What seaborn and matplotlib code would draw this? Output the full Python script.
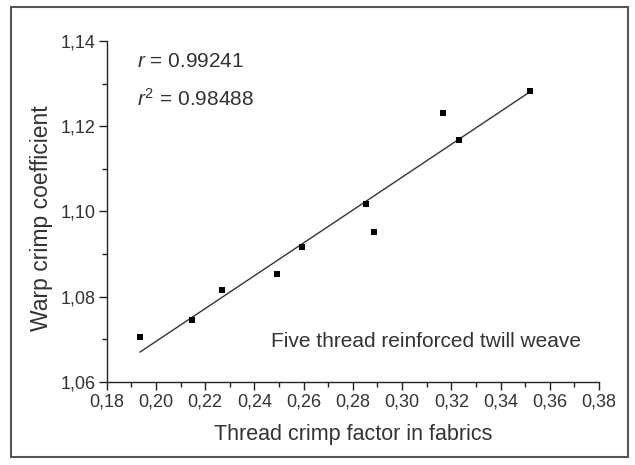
import matplotlib
matplotlib.use("Agg")
import matplotlib.pyplot as plt
from matplotlib.patches import Rectangle
from matplotlib.ticker import MultipleLocator, FuncFormatter
import seaborn as sns
import pandas as pd

# Data
thread_crimp = [0.1935, 0.2146, 0.2270, 0.2492, 0.2593, 0.2854, 0.2884, 0.3168, 0.3233, 0.3518]
warp_crimp = [1.0706, 1.0745, 1.0816, 1.0853, 1.0916, 1.1017, 1.0952, 1.1230, 1.1167, 1.1283]
r_text = "0.99241"
r2_text = "0.98488"
x_label = "Thread crimp factor in fabrics"
y_label = "Warp crimp coefficient"
note = "Five thread reinforced twill weave"

df = pd.DataFrame({"x": thread_crimp, "y": warp_crimp})

sns.set_style("ticks")
plt.rcParams['font.family'] = ['Liberation Sans', 'DejaVu Sans']
plt.rcParams['mathtext.fontset'] = 'custom'
plt.rcParams['mathtext.rm'] = 'Liberation Sans'
plt.rcParams['mathtext.it'] = 'Liberation Sans:italic'

fig = plt.figure(figsize=(6.35, 4.65), dpi=100)
ax = fig.add_axes([106.7 / 635, 1 - 382 / 465, (599 - 106.7) / 635, (382 - 41) / 465])

sns.regplot(data=df, x="x", y="y", ax=ax, scatter=False, ci=None,
            line_kws=dict(color="#333333", lw=1.0))
sns.scatterplot(data=df, x="x", y="y", ax=ax, marker="s", s=16,
                color="black", edgecolor="black", linewidth=0, zorder=3)

ax.set_xlim(0.18, 0.38)
ax.set_ylim(1.06, 1.14)
ax.xaxis.set_major_locator(MultipleLocator(0.02))
ax.xaxis.set_minor_locator(MultipleLocator(0.01))
ax.yaxis.set_major_locator(MultipleLocator(0.02))
ax.yaxis.set_minor_locator(MultipleLocator(0.01))
fmt = FuncFormatter(lambda v, p: f"{v:.2f}".replace(".", ","))
ax.xaxis.set_major_formatter(fmt)
ax.yaxis.set_major_formatter(fmt)

for s in ["top", "right"]:
    ax.spines[s].set_visible(False)
for s in ["left", "bottom"]:
    ax.spines[s].set_linewidth(1.0)
    ax.spines[s].set_color("#222222")

ax.tick_params(which="major", direction="out", length=6, width=1, color="#222222",
               labelsize=13, labelcolor="#333333", pad=2)
ax.tick_params(which="minor", direction="out", length=3.5, width=1, color="#222222")

ax.set_xlabel(x_label, fontsize=15.5, color="#333333", labelpad=10)
ax.set_ylabel(y_label, fontsize=16.5, color="#333333")
ax.yaxis.set_label_coords(-0.109, 0.481)

ax.text(0.1923, 1.1351, r"$\mathit{r}$ = " + r_text, fontsize=15, color="#333333",
        va="center", ha="left")
ax.text(0.1923, 1.1264, r"$\mathit{r}^{2}$ = " + r2_text, fontsize=15, color="#333333",
        va="center", ha="left")
ax.text(0.2468, 1.0694, note, fontsize=15, color="#333333", va="center", ha="left")

fig.patches.append(Rectangle((11 / 635, 1 - 457 / 465), (628 - 11) / 635, (457 - 7) / 465,
                             transform=fig.transFigure, fill=False,
                             edgecolor="#555555", lw=1.5))

fig.savefig("out.png", dpi=100, facecolor="white")
